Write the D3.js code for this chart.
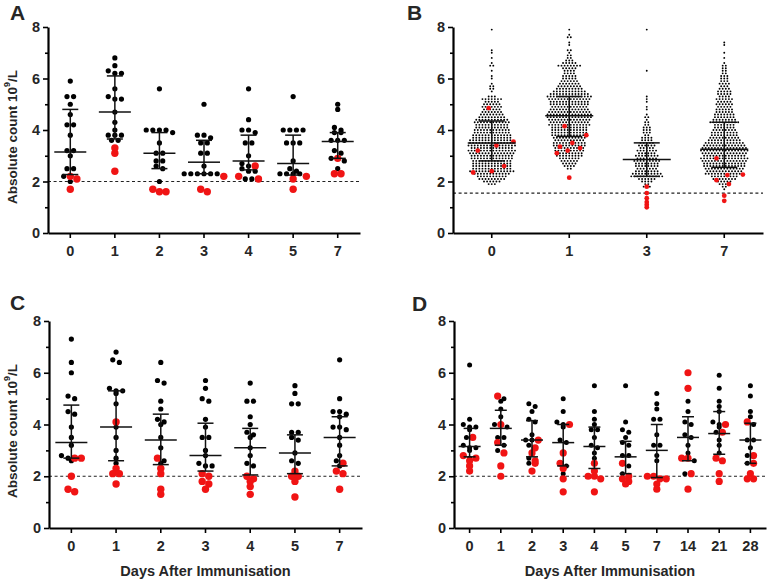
<!DOCTYPE html>
<html><head><meta charset="utf-8">
<script src="https://cdn.jsdelivr.net/npm/d3@7"></script>
<style>
body{margin:0;background:#fff}
text{font-family:"Liberation Sans",Arial,Helvetica,sans-serif;font-weight:bold;fill:#262626}
</style>
</head><body><script>
// ---------------- DATA ----------------
const catsA = ["0","1","2","3","4","5","7"];
const aBlack = [
  [5.9,5.3,5.3,5.0,4.6,4.2,4.2,3.8,3.2,3.2,3.0,2.5,2.5,2.2,2.0],
  [6.8,6.5,6.3,6.2,6.2,5.6,5.3,5.2,5.2,4.7,4.3,4.0,3.8,3.8,3.8,3.6,3.6],
  [5.6,4.0,4.0,4.0,4.0,3.9,3.5,3.1,3.1,2.8,2.8,2.6,2.5,2.0],
  [5.0,3.8,3.8,3.7,3.5,3.5,3.1,3.1,2.6,2.3,2.3,2.3,2.3,2.3,2.3],
  [5.6,4.4,4.0,4.0,3.9,3.5,3.5,3.0,2.7,2.6,2.5,2.4,2.4,2.1,2.1],
  [5.3,4.0,4.0,4.0,4.0,3.5,3.5,3.5,2.8,2.5,2.4,2.3,2.3,2.3,2.3],
  [5.0,4.8,4.1,4.0,3.9,3.9,3.6,3.6,3.6,3.2,3.1,2.9,2.8,2.5]
];
const aRed = [[2.2,2.1,1.7],[3.3,3.1,2.4],[1.7,1.6,1.6],[2.2,1.7,1.6],[2.6,2.2,2.1],[2.2,2.1,1.7],[2.9,2.3,2.3]];
const aMedian = [3.15,4.7,3.1,2.75,2.8,2.7,3.55];
const aQ1 = [2.27,3.65,2.5,2.3,2.45,2.25,2.9];
const aQ3 = [4.8,6.1,3.9,3.6,3.8,3.8,3.9];

const catsB = ["0","1","3","7"];
const b0Levels = [7.9,7.1,7.0,6.8,6.6,6.5,6.3,6.1,6.0,5.8,5.7,5.6,5.5,5.3,5.2,5.1,5.0,4.9,4.8,4.7,4.6,4.5,4.4,4.3,4.2,4.1,4.0,3.9,3.8,3.7,3.6,3.5,3.4,3.3,3.2,3.1,3.0,2.9,2.8,2.7,2.6,2.5,2.4,2.3,2.2,2.1,2.0,1.9];
const b0Counts = [1,1,1,1,1,2,1,1,1,1,2,2,1,3,7,5,6,6,6,7,8,9,11,12,11,11,12,12,13,13,14,15,15,14,15,15,14,14,13,13,12,13,13,12,10,9,6,3];
const b1Levels = [7.9,7.7,7.6,7.4,7.3,7.1,7.0,6.9,6.8,6.7,6.6,6.5,6.4,6.3,6.2,6.1,6.0,5.9,5.8,5.7,5.6,5.5,5.4,5.3,5.2,5.1,5.0,4.9,4.8,4.7,4.6,4.5,4.4,4.3,4.2,4.1,4.0,3.9,3.8,3.7,3.6,3.5,3.4,3.3,3.2,3.1,3.0,2.9,2.8,2.7,2.6,2.5];
const b1Counts = [1,1,2,1,1,2,1,2,2,3,5,8,5,4,4,5,5,6,7,8,9,11,13,15,14,13,13,12,13,14,15,15,14,13,13,12,12,12,11,11,10,10,10,9,9,8,9,7,6,5,4,2];
const b3Levels = [7.9,6.3,5.3,5.2,5.1,4.9,4.8,4.6,4.5,4.4,4.3,4.2,4.1,4.0,3.9,3.8,3.7,3.6,3.5,3.4,3.3,3.2,3.1,3.0,2.9,2.8,2.7,2.6,2.5,2.4,2.3,2.2,2.1,2.0,1.9,1.8];
const b3Counts = [1,1,1,1,1,1,1,1,2,1,2,2,3,3,3,2,4,4,5,6,5,7,6,8,7,9,8,8,7,8,10,11,6,4,2,2];
const b7Levels = [7.4,7.3,7.0,6.8,6.6,6.5,6.4,6.3,6.2,6.1,6.0,5.9,5.8,5.7,5.6,5.5,5.4,5.3,5.2,5.1,5.0,4.9,4.8,4.7,4.6,4.5,4.4,4.3,4.2,4.1,4.0,3.9,3.8,3.7,3.6,3.5,3.4,3.3,3.2,3.1,3.0,2.9,2.8,2.7,2.6,2.5,2.4,2.3,2.2,2.1,2.0,1.9,1.8,1.7];
const b7Counts = [1,1,1,1,1,2,2,2,2,3,3,3,4,3,4,5,5,4,6,5,6,5,6,6,7,7,8,10,7,7,8,9,9,10,11,13,14,15,16,15,14,15,15,14,14,13,12,11,9,7,5,3,2,1];
const bRed = [[4.85,3.55,3.4,3.2,2.6,2.4,2.35],[4.15,3.8,3.5,3.35,3.3,3.2,3.1,2.15],[1.8,1.55,1.35,1.2,1.1,1.0],[2.9,2.27,2.25,2.05,1.9,1.45,1.25]];
const bMedian = [3.5,4.55,2.85,3.25];
const bQ1 = [2.8,3.75,2.2,2.55];
const bQ3 = [4.35,5.3,3.5,4.3];

const cBlack = [
  [7.3,6.4,6.0,5.1,5.0,4.5,4.4,3.9,3.5,3.2,2.8,2.7,2.6],
  [6.8,6.5,6.4,5.4,5.3,5.3,5.2,4.8,3.9,3.5,3.0,2.7,2.5],
  [6.4,5.7,5.6,4.9,4.6,4.2,4.1,4.0,3.5,3.1,2.6,2.5],
  [5.7,5.4,5.0,4.9,4.2,3.9,3.5,3.5,3.0,2.8,2.5,2.4,2.4],
  [5.6,4.9,4.9,4.3,4.0,3.7,3.6,3.5,3.1,2.8,2.5,2.4],
  [5.5,5.2,4.8,4.8,3.7,3.7,3.5,3.4,2.9,2.6,2.5],
  [6.5,5.0,4.5,4.5,4.4,4.3,3.9,3.9,3.8,3.5,3.2,2.8,2.6,2.4]
];
const cRed = [[2.7,2.7,2.0,1.5,1.4],[4.1,2.3,2.1,2.1,1.7],[2.7,2.3,2.1,1.5,1.3],[2.1,2.0,1.8,1.7,1.5],[2.0,1.9,1.8,1.6,1.3],[2.2,2.0,2.0,1.8,1.2],[2.5,2.2,2.1,1.5]];
const cMedian = [3.3,3.9,3.4,2.8,3.1,2.9,3.5];
const cQ1 = [2.7,2.6,2.45,2.2,2.05,2.1,2.4];
const cQ3 = [4.75,5.3,4.4,4.05,3.85,3.6,4.3];

const catsD = ["0","1","2","3","4","5","7","14","21","28"];
const dBlack = [
  [6.3,4.2,4.0,3.9,3.9,3.8,3.5,3.2,3.1,3.1,3.0,2.7],
  [5.0,4.9,4.6,4.3,4.0,3.9,3.5,3.5,3.2,3.0],
  [4.8,4.7,4.5,4.2,4.1,3.6,3.4,3.4,3.2,2.7,2.5],
  [5.0,4.5,4.1,4.0,3.9,3.4,3.3,2.4,2.1],
  [5.5,4.5,4.2,4.0,3.8,3.8,3.5,3.2,3.1,2.9,2.7],
  [5.5,4.1,3.8,3.7,3.5,3.3,3.2,2.8,2.8,2.4,2.1],
  [5.2,4.8,4.6,4.2,4.2,3.6,3.2,3.2,2.8,2.6],
  [4.9,4.5,4.1,4.0,3.6,3.5,3.2,2.9,2.6,2.1],
  [5.9,5.4,4.9,4.7,4.5,4.1,4.0,3.9,3.7,3.4,3.2,2.9],
  [5.5,5.1,4.5,4.3,4.0,3.4,3.4,3.1,2.8,2.5]
];
const dRed = [[3.5,2.8,2.7,2.6,2.4,2.2],[5.1,4.0,3.3,2.9,2.4,2.0],[3.4,3.1,2.9,2.6,2.5,2.2],[4.0,2.9,2.5,2.3,1.9,1.4],[2.5,2.2,2.0,2.0,1.9,1.4],[2.5,2.0,1.9,1.8,1.7],[2.0,2.0,1.9,1.9,1.7,1.5],[6.0,5.4,2.7,2.7,2.1,1.5],[4.0,3.7,2.7,2.6,2.1,1.8],[4.1,2.8,2.5,2.1,1.9,1.9]];
const dMedian = [3.15,3.85,3.4,3.3,3.15,2.75,3.0,3.5,3.65,3.4];
const dQ1 = [2.75,3.2,2.75,2.4,2.3,2.1,1.95,2.6,2.85,2.5];
const dQ3 = [3.85,4.55,4.15,4.0,3.9,3.35,4.0,4.3,4.5,4.05];

const yMajor = [0,2,4,6,8];
const yMinor = [1,3,5,7];
const yTitle = "Absolute count 10";
const xTitle = "Days After Immunisation";

// ---------------- DRAW ----------------
const RED = "#f01414";
const svg = d3.select("body").append("svg").attr("width",769).attr("height",582);

function rowLayout(pts, y, spacing, tolPx){
  const s = pts.slice().sort((a,b)=>b.v-a.v);
  const rows=[]; let cur=null;
  for(const p of s){
    const py=y(p.v);
    if(cur && py-cur.y0 < tolPx) cur.items.push(p); else {cur={y0:py,items:[p]}; rows.push(cur);}
  }
  const out=[];
  rows.forEach(r=>{const n=r.items.length; r.items.forEach((p,i)=>out.push({v:p.v,red:p.red,dx:(i-(n-1)/2)*spacing}));});
  return out;
}
function levelLayout(levels, counts, reds, spacing){
  const rows=new Map();
  levels.forEach((l,i)=>rows.set(l, d3.range(counts[i]).map(()=>({v:l,red:false}))));
  reds.forEach((v,j)=>{
    const l=Math.round(v*10)/10;
    if(!rows.has(l)) rows.set(l,[]);
    const r=rows.get(l);
    const pos=Math.floor(((j*0.618+0.37)%1)*(r.length+1));
    r.splice(pos,0,{v,red:true});
  });
  const out=[];
  rows.forEach(r=>{const n=r.length; r.forEach((p,i)=>out.push({v:p.v,red:p.red,dx:(i-(n-1)/2)*spacing}));});
  return out;
}

function drawPanel(c){
  const g=svg.append("g");
  const y=d3.scaleLinear().domain([0,8]).range([c.yBot,c.yTop]);
  const x=d3.scaleBand().domain(c.cats).range([c.x0,c.x1]);
  const cx=i=>x(c.cats[i])+x.bandwidth()/2;
  // threshold
  g.append("line").attr("x1",c.x0).attr("x2",c.x1).attr("y1",y(c.thr)).attr("y2",y(c.thr))
    .attr("stroke","#222").attr("stroke-width",1.2).attr("stroke-dasharray","3,2.6");
  // dots
  c.cats.forEach((cat,i)=>{
    const pts=c.layout(i,y);
    const gg=g.append("g");
    gg.selectAll("circle.k").data(pts.filter(p=>!p.red)).join("circle")
      .attr("cx",p=>cx(i)+p.dx).attr("cy",p=>y(p.v)).attr("r",c.rB).attr("fill","#000");
    gg.selectAll("circle.r").data(pts.filter(p=>p.red)).join("circle")
      .attr("cx",p=>cx(i)+p.dx).attr("cy",p=>y(p.v)).attr("r",c.rR).attr("fill",RED);
  });
  // median + IQR
  c.cats.forEach((cat,i)=>{
    const X=cx(i);
    const s=g.append("g").attr("stroke","#111").attr("stroke-width",1.5);
    s.append("line").attr("x1",X-c.medHalf).attr("x2",X+c.medHalf).attr("y1",y(c.med[i])).attr("y2",y(c.med[i]));
    s.append("line").attr("x1",X).attr("x2",X).attr("y1",y(c.q1[i])).attr("y2",y(c.q3[i]));
    [c.q1[i],c.q3[i]].forEach(q=>s.append("line").attr("x1",X-c.capHalf).attr("x2",X+c.capHalf).attr("y1",y(q)).attr("y2",y(q)));
  });
  // axes
  g.append("g").attr("transform",`translate(${c.x0},0)`)
    .call(d3.axisLeft(y).tickValues(yMajor).tickSize(5).tickSizeOuter(0).tickPadding(3).tickFormat(d3.format("d")));
  g.append("g").attr("transform",`translate(${c.x0},0)`)
    .call(d3.axisLeft(y).tickValues(yMinor).tickSize(3).tickSizeOuter(0).tickFormat(""))
    .call(a=>a.select(".domain").remove());
  g.append("g").attr("transform",`translate(0,${c.yBot})`)
    .call(d3.axisBottom(x).tickSize(5).tickSizeOuter(0).tickPadding(8));
  g.selectAll(".domain").attr("stroke","#000").attr("stroke-width",2.2);
  g.selectAll(".tick line").attr("stroke","#000").attr("stroke-width",1.6);
  g.selectAll(".tick text").attr("font-size",14.5).attr("font-family",'"Liberation Sans",Arial,sans-serif').attr("font-weight","bold").attr("fill","#262626");
  // letter
  svg.append("text").attr("x",c.lx).attr("y",c.ly).attr("font-size",21).text(c.letter);
  if(c.ylab){
    const t=svg.append("text").attr("transform",`translate(${c.ylab[0]},${c.ylab[1]}) rotate(-90)`)
      .attr("text-anchor","middle").attr("dominant-baseline","middle").attr("font-size",13.5);
    t.append("tspan").text(yTitle);
    t.append("tspan").attr("dy",-5).attr("font-size",9).text("9");
    t.append("tspan").attr("dy",5).text("/L");
  }
  if(c.xlab){
    svg.append("text").attr("x",(c.x0+c.x1)/2).attr("y",c.xlab).attr("text-anchor","middle").attr("font-size",14.5).text(xTitle);
  }
}

function groupPts(black, red, i){
  return black[i].map(v=>({v,red:false})).concat(red[i].map(v=>({v,red:true})));
}

drawPanel({letter:"A",lx:10,ly:20,cats:catsA,x0:48,x1:360,yTop:27,yBot:233,thr:2,rB:2.6,rR:3.7,medHalf:16,capHalf:8,
  med:aMedian,q1:aQ1,q3:aQ3,ylab:[13,137],
  layout:(i,y)=>rowLayout(groupPts(aBlack,aRed,i),y,6.6,4)});
const bL=[b0Levels,b1Levels,b3Levels,b7Levels], bC=[b0Counts,b1Counts,b3Counts,b7Counts];
drawPanel({letter:"B",lx:407,ly:20,cats:catsB,x0:453,x1:763,yTop:27,yBot:233,thr:1.55,rB:0.95,rR:2.4,medHalf:24,capHalf:13,
  med:bMedian,q1:bQ1,q3:bQ3,
  layout:(i,y)=>levelLayout(bL[i],bC[i],bRed[i],3.1)});
drawPanel({letter:"C",lx:10,ly:310,cats:catsA,x0:49,x1:362,yTop:321,yBot:528,thr:2,rB:2.6,rR:3.7,medHalf:16,capHalf:8,
  med:cMedian,q1:cQ1,q3:cQ3,ylab:[13,431],xlab:576,
  layout:(i,y)=>rowLayout(groupPts(cBlack,cRed,i),y,6.6,4)});
drawPanel({letter:"D",lx:412,ly:311,cats:catsD,x0:454,x1:766,yTop:321,yBot:528,thr:2,rB:2.5,rR:3.6,medHalf:11,capHalf:6,
  med:dMedian,q1:dQ1,q3:dQ3,xlab:576,
  layout:(i,y)=>rowLayout(groupPts(dBlack,dRed,i),y,6.3,4)});
</script></body></html>
